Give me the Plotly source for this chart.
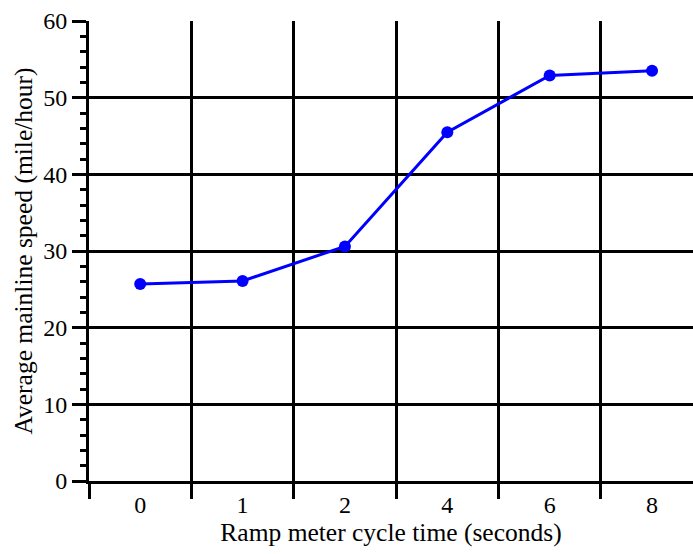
import plotly.graph_objects as go

cycle_time = ["0", "1", "2", "4", "6", "8"]
avg_speed = [25.7, 26.1, 30.6, 45.5, 52.9, 53.5]

fig = go.Figure()
fig.add_trace(go.Scatter(
    x=cycle_time, y=avg_speed, mode="lines+markers",
    line=dict(color="#0000ff", width=3),
    marker=dict(color="#0000ff", size=12),
    showlegend=False, cliponaxis=False,
))

font_family = "Liberation Serif"
fig.update_layout(
    width=693, height=554,
    margin=dict(l=89, r=0, t=21, b=73),
    paper_bgcolor="white", plot_bgcolor="white",
    font=dict(family=font_family, size=24, color="black"),
    xaxis=dict(
        type="category", range=[-0.5, 5.4],
        tickson="boundaries", ticks="outside", ticklen=15, tickwidth=2.5, tickcolor="black",
        showgrid=True, gridcolor="black", gridwidth=2.5,
        showline=True, linecolor="black", linewidth=2.5,
        zeroline=False,
        title=dict(text="Ramp meter cycle time (seconds)", font=dict(size=25.5), standoff=4),
        tickfont=dict(size=24),
    ),
    yaxis=dict(
        range=[0, 60], dtick=10, tick0=0,
        ticks="outside", ticklen=14, tickwidth=2.5, tickcolor="black",
        minor=dict(dtick=2, ticks="outside", ticklen=6, tickwidth=2.5, tickcolor="black", showgrid=False),
        showgrid=True, gridcolor="black", gridwidth=2.5,
        showline=True, linecolor="black", linewidth=3,
        zeroline=False,
        title=dict(text="Average mainline speed (mile/hour)", font=dict(size=25.5), standoff=4),
        tickfont=dict(size=24),
    ),
)

fig.write_html("out.html")
